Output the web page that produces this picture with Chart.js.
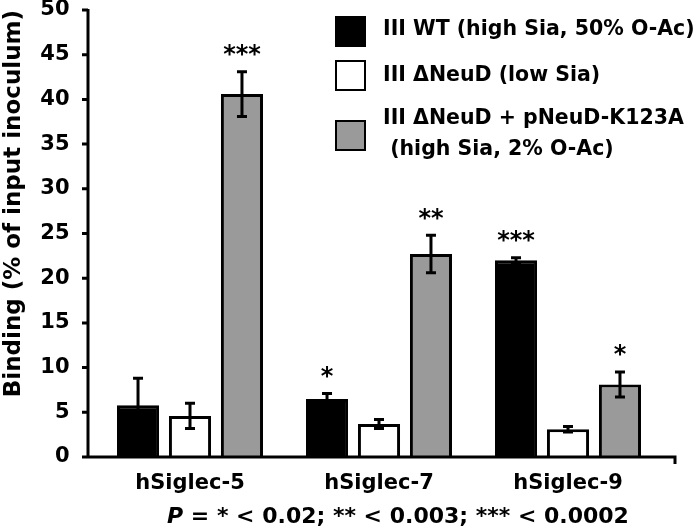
<!DOCTYPE html>
<html>
<head>
<meta charset="utf-8">
<script src="https://cdn.jsdelivr.net/npm/chart.js@4.4.1/dist/chart.umd.min.js"></script>
<style>
  html, body { margin: 0; padding: 0; background: #fff; }
  #wrap { width: 700px; height: 532px; }
</style>
</head>
<body>
<div id="wrap"><canvas id="chartSiglec"></canvas></div>
<script>
// ── Data ──
const categories = ['hSiglec-5', 'hSiglec-7', 'hSiglec-9'];
const seriesLabels = [
  ['III WT (high Sia, 50% O-Ac)'],
  ['III \u0394NeuD (low Sia)'],
  ['III \u0394NeuD + pNeuD-K123A', ' (high Sia, 2% O-Ac)']
];
const wtValues    = [5.8, 6.5, 22.0];   // III WT
const neuDValues  = [4.6, 3.7, 3.1];    // III ΔNeuD
const k123aValues = [40.6, 22.7, 8.1];  // III ΔNeuD + pNeuD-K123A
const wtErrors    = [3.0, 0.6, 0.3];
const neuDErrors  = [1.4, 0.5, 0.3];
const k123aErrors = [2.5, 2.1, 1.4];
const wtStars     = ['', '*', '***'];
const neuDStars   = ['', '', ''];
const k123aStars  = ['***', '**', '*'];
const yTicks = [0, 5, 10, 15, 20, 25, 30, 35, 40, 45, 50];
const pValueNote = ['P', ' = * < 0.02; ** < 0.003; *** < 0.0002'];

// colours
const black = '#000000';
const white = '#ffffff';
const grey  = '#9a9a9a';
const fontFamily = "'DejaVu Sans', sans-serif";

const errorSets = [wtErrors, neuDErrors, k123aErrors];
const starSets  = [wtStars, neuDStars, k123aStars];
const fills     = [black, white, grey];

// error bars + significance stars on top of each bar
const errorBarPlugin = {
  id: 'errorBars',
  afterDatasetsDraw(chart) {
    const ctx = chart.ctx;
    const yScale = chart.scales.y;
    chart.data.datasets.forEach((ds, di) => {
      const meta = chart.getDatasetMeta(di);
      meta.data.forEach((bar, i) => {
        const v = ds.data[i];
        const e = errorSets[di][i];
        const yTop = yScale.getPixelForValue(v + e);
        const yBot = yScale.getPixelForValue(v - e);
        ctx.save();
        ctx.strokeStyle = black;
        ctx.lineWidth = 3;
        ctx.beginPath();
        ctx.moveTo(bar.x, yTop); ctx.lineTo(bar.x, yBot);
        ctx.moveTo(bar.x - 5, yTop); ctx.lineTo(bar.x + 5, yTop);
        ctx.moveTo(bar.x - 5, yBot); ctx.lineTo(bar.x + 5, yBot);
        ctx.stroke();
        const star = starSets[di][i];
        if (star) {
          ctx.fillStyle = black;
          ctx.font = 'bold 24px ' + fontFamily;
          ctx.textAlign = 'center';
          ctx.textBaseline = 'middle';
          ctx.fillText(star, bar.x, yTop - 16);
        }
        ctx.restore();
      });
    });
  }
};

// axis lines, ticks, legend and the P-value note
const decorPlugin = {
  id: 'decor',
  afterDraw(chart) {
    const ctx = chart.ctx;
    const yScale = chart.scales.y;
    const area = chart.chartArea;
    const axisX = area.left - 7.5;
    const y0 = yScale.getPixelForValue(0);
    ctx.save();
    ctx.strokeStyle = black;
    ctx.lineWidth = 3;
    ctx.beginPath();
    ctx.moveTo(axisX, yScale.getPixelForValue(50) - 1);
    ctx.lineTo(axisX, y0);
    ctx.lineTo(area.right + 12.5, y0);
    ctx.lineTo(area.right + 12.5, y0 + 7);
    yTicks.forEach(t => {
      const py = yScale.getPixelForValue(t);
      ctx.moveTo(axisX - 6, py); ctx.lineTo(axisX, py);
    });
    ctx.stroke();

    // legend
    const boxX = 335, boxSize = 31, textX = 383;
    const boxTops = [16, 60, 120];
    const lineCentres = [[30], [76], [119, 150]];
    ctx.font = 'bold 20.5px ' + fontFamily;
    ctx.textBaseline = 'middle';
    ctx.textAlign = 'left';
    seriesLabels.forEach((lines, i) => {
      ctx.fillStyle = fills[i];
      ctx.fillRect(boxX, boxTops[i], boxSize, boxSize);
      ctx.lineWidth = 2;
      ctx.strokeRect(boxX + 1, boxTops[i] + 1, boxSize - 2, boxSize - 2);
      ctx.fillStyle = black;
      lines.forEach((ln, j) => ctx.fillText(ln, textX, lineCentres[i][j]));
    });

    // P-value note
    ctx.font = 'italic bold 22px ' + fontFamily;
    const wP = ctx.measureText(pValueNote[0]).width;
    ctx.font = 'bold 22px ' + fontFamily;
    const wRest = ctx.measureText(pValueNote[1]).width;
    let x = 398 - (wP + wRest) / 2;
    ctx.font = 'italic bold 22px ' + fontFamily;
    ctx.fillText(pValueNote[0], x, 517);
    ctx.font = 'bold 22px ' + fontFamily;
    ctx.fillText(pValueNote[1], x + wP, 517);
    ctx.restore();
  }
};

const dataset = (label, data, fill) => ({
  label: label.join(' '),
  data: data,
  backgroundColor: fill,
  borderColor: black,
  borderWidth: 3,
  borderSkipped: 'bottom',
  categoryPercentage: 0.825,
  barPercentage: 0.81
});

new Chart(document.getElementById('chartSiglec'), {
  type: 'bar',
  data: {
    labels: categories,
    datasets: [
      dataset(seriesLabels[0], wtValues, black),
      dataset(seriesLabels[1], neuDValues, white),
      dataset(seriesLabels[2], k123aValues, grey)
    ]
  },
  options: {
    responsive: true,
    maintainAspectRatio: false,
    animation: false,
    layout: { padding: { top: 10, right: 37.5, left: 0, bottom: 0 } },
    plugins: { legend: { display: false }, tooltip: { enabled: false } },
    scales: {
      x: {
        grid: { display: false },
        border: { display: false },
        ticks: { color: black, font: { family: fontFamily, size: 21, weight: 'bold' }, padding: 6 },
        afterFit: s => { s.height = 75; s.paddingLeft = 0; s.paddingRight = 0; }
      },
      y: {
        min: 0,
        max: 50,
        afterBuildTicks: s => { s.ticks = yTicks.map(v => ({ value: v })); },
        grid: { display: false },
        border: { display: false },
        ticks: { color: black, font: { family: fontFamily, size: 21, weight: 'bold' }, padding: 18 },
        title: {
          display: true,
          text: 'Binding (% of input inoculum)',
          align: 'end',
          color: black,
          font: { family: fontFamily, size: 23, weight: 'bold' },
          padding: { top: 0, bottom: 0 }
        },
        afterFit: s => { s.width = 95.5; s.paddingTop = 0; s.paddingBottom = 0; }
      }
    }
  },
  plugins: [errorBarPlugin, decorPlugin]
});
</script>
</body>
</html>
